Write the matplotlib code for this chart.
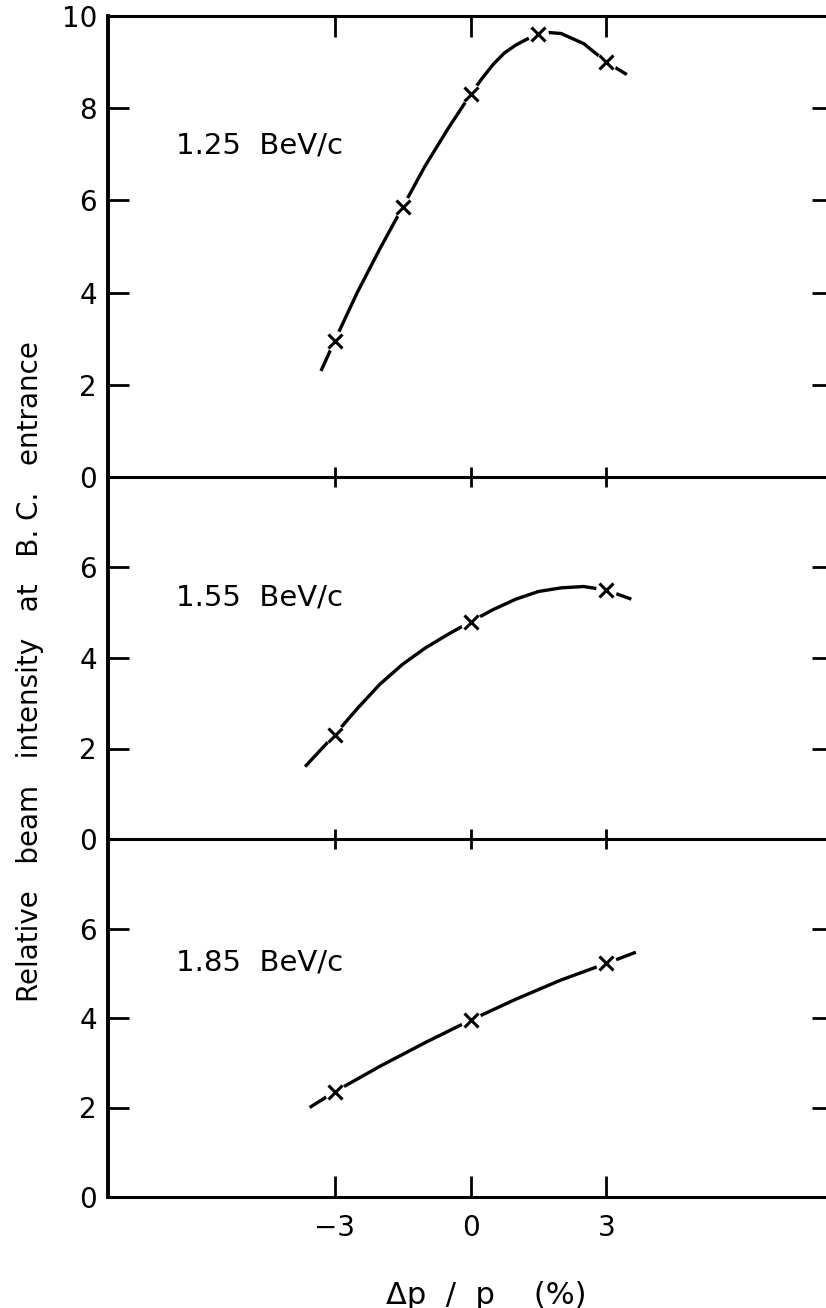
import matplotlib
matplotlib.use('Agg')
import matplotlib.pyplot as plt

# momentum spread, percent
x_ticks = [-3, 0, 3]
x_tick_labels = ['\u22123', '0', '3']

panel_labels = ['1.25  BeV/c', '1.55  BeV/c', '1.85  BeV/c']

# measured points (crosses)
meas_x_125 = [-3, -1.5, 0, 1.5, 3]
meas_y_125 = [2.95, 5.85, 8.3, 9.6, 9.0]
meas_x_155 = [-3, 0, 3]
meas_y_155 = [2.3, 4.8, 5.5]
meas_x_185 = [-3, 0, 3]
meas_y_185 = [2.35, 3.95, 5.22]

# hand drawn curves
curve_x_125 = [-3.3, -3.0, -2.5, -2.0, -1.5, -1.0, -0.5, 0.0, 0.25, 0.5, 0.75, 1.0, 1.25, 1.5, 1.75, 2.0, 2.5, 3.0, 3.45]
curve_y_125 = [2.3, 2.95, 4.0, 4.95, 5.85, 6.75, 7.55, 8.3, 8.64, 8.95, 9.2, 9.37, 9.5, 9.6, 9.64, 9.62, 9.4, 9.0, 8.73]
curve_x_155 = [-3.65, -3.0, -2.5, -2.0, -1.5, -1.0, -0.5, 0.0, 0.5, 1.0, 1.5, 2.0, 2.5, 3.0, 3.55]
curve_y_155 = [1.6, 2.3, 2.88, 3.42, 3.86, 4.22, 4.52, 4.8, 5.07, 5.3, 5.47, 5.55, 5.58, 5.5, 5.3]
curve_x_185 = [-3.55, -3.0, -2.0, -1.0, 0.0, 1.0, 2.0, 3.0, 3.65]
curve_y_185 = [2.0, 2.35, 2.92, 3.45, 3.95, 4.42, 4.85, 5.22, 5.47]

top_ylim = 10
lower_ylim = 8

W, H = 826, 1308
fig = plt.figure(figsize=(W / 100, H / 100), dpi=100)

# axes boxes in pixels: (top edge, bottom edge)
left_px, right_px = 108, 833
boxes = [(16, 477), (477, 839), (839, 1197)]

panels = [
    (meas_x_125, meas_y_125, curve_x_125, curve_y_125, top_ylim, [0, 2, 4, 6, 8, 10], 7.2),
    (meas_x_155, meas_y_155, curve_x_155, curve_y_155, lower_ylim, [0, 2, 4, 6], 5.33),
    (meas_x_185, meas_y_185, curve_x_185, curve_y_185, lower_ylim, [0, 2, 4, 6], 5.24),
]

for i, (box, panel) in enumerate(zip(boxes, panels)):
    top_px, bot_px = box
    mx, my, cx, cy, ymax, yticks, label_y = panel
    ax = fig.add_axes([left_px / W, 1 - bot_px / H, (right_px - left_px) / W, (bot_px - top_px) / H])
    ax.patch.set_visible(False)   # so the shared boundary lines are not covered

    ax.plot(cx, cy, color='black', lw=2.4, solid_capstyle='butt', zorder=2)
    # small white gap around each cross, like the hand drawing
    ax.plot(mx, my, 'o', ms=15, mfc='white', mec='none', zorder=3)
    ax.plot(mx, my, 'x', ms=10, mew=2.2, color='black', zorder=4)

    ax.text(-6.5, label_y, panel_labels[i], fontsize=21, ha='left', va='center')

    ax.set_xlim(-8, 8)
    ax.set_ylim(0, ymax)
    ax.set_xticks(x_ticks)
    ax.set_yticks(yticks)
    ax.set_yticklabels([str(v) for v in yticks])

    for side in ['left', 'right', 'top', 'bottom']:
        ax.spines[side].set_linewidth(2.2)
        ax.spines[side].set_color('black')
    ax.spines['left'].set_linewidth(2.8)
    if i > 0:
        ax.spines['top'].set_visible(False)

    ax.tick_params(axis='y', direction='in', length=15, width=2, left=True, right=True,
                   labelsize=20, pad=8)
    if i < 2:
        ax.tick_params(axis='x', bottom=True, labelbottom=False, direction='inout', length=15, width=2)
        if i == 0:
            # top spine ticks point inward (down)
            ax.tick_params(axis='x', top=True, labeltop=False)
            for t in ax.xaxis.get_major_ticks():
                t.tick2line.set_marker(3)  # TICKDOWN
                t.tick2line.set_markersize(15)
    else:
        ax.tick_params(axis='x', direction='in', length=15, width=2, labelsize=20, pad=12)
        ax.set_xticklabels(x_tick_labels)

fig.text(30 / W, 1 - 672 / H, 'Relative   beam   intensity   at   B. C.   entrance',
         rotation=90, fontsize=20, ha='center', va='center')
fig.text(486 / W, 1 - 1295 / H, '\u0394p  /  p    (%)', fontsize=22, ha='center', va='center')

fig.savefig('out.png', dpi=100)
